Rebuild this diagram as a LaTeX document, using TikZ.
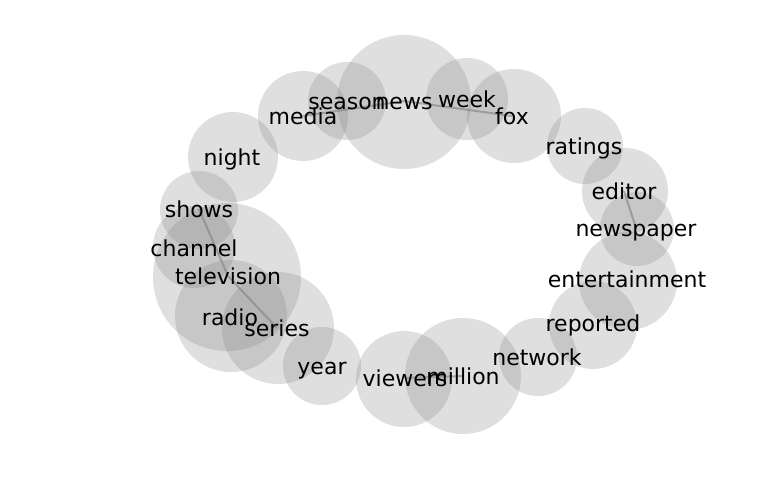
\documentclass[tikz,border=0pt]{standalone}
\usepackage{fontspec}
\setmainfont{DejaVu Sans}
\begin{document}
\begin{tikzpicture}[x=1pt,y=-1pt,
  bub/.style={fill=gray,fill opacity=0.25,draw=none},
  word/.style={inner sep=0pt,font=\fontsize{22}{24}\selectfont,text height=16.7pt,text depth=5.3pt,anchor=center,yshift=-2.5pt},
  link/.style={draw=gray,line width=2pt,opacity=0.6}]
\useasboundingbox (0,0) rectangle (768,500);
\fill[white] (0,0) rectangle (768,500);
% circles
\fill[bub] (404,102) circle (67);
\fill[bub] (347,101) circle (39);
\fill[bub] (303,116) circle (45);
\fill[bub] (467,99) circle (41);
\fill[bub] (514,116) circle (47);
\fill[bub] (585,146) circle (38);
\fill[bub] (625,191) circle (43);
\fill[bub] (637,229) circle (37);
\fill[bub] (628,281) circle (49);
\fill[bub] (593,325) circle (44);
\fill[bub] (538,357) circle (39);
\fill[bub] (463,376) circle (58);
\fill[bub] (404,379) circle (48);
\fill[bub] (322,366) circle (39);
\fill[bub] (278,328) circle (56);
\fill[bub] (231,316) circle (56);
\fill[bub] (227,277) circle (74);
\fill[bub] (194,247) circle (41);
\fill[bub] (199,210) circle (39);
\fill[bub] (233,157) circle (45);
% anchor points of the words
\coordinate (cnews) at (404,101);
\coordinate (cseason) at (347,101);
\coordinate (cmedia) at (303,116);
\coordinate (cweek) at (467,99);
\coordinate (cfox) at (512,116);
\coordinate (cratings) at (584,146);
\coordinate (ceditor) at (624,191);
\coordinate (cnewspaper) at (636,228);
\coordinate (centertainment) at (627,279);
\coordinate (creported) at (593,323);
\coordinate (cnetwork) at (537,357);
\coordinate (cmillion) at (463,376);
\coordinate (cviewers) at (405,378);
\coordinate (cyear) at (322,366);
\coordinate (cseries) at (277,328);
\coordinate (cradio) at (230,317);
\coordinate (ctelevision) at (228,276);
\coordinate (cchannel) at (194,248);
\coordinate (cshows) at (199,209);
\coordinate (cnight) at (232,157);
% links
\draw[link] (cmedia) -- (cnews);
\draw[link] (cnews) -- (cfox);
\draw[link] (ceditor) -- (cnewspaper);
\draw[link] (cshows) -- (ctelevision);
\draw[link] (ctelevision) -- (cseries);
\draw[link] (cviewers) -- (cmillion);
% words
\node[word] (news) at (cnews) {news};
\node[word] (season) at (cseason) {season};
\node[word] (media) at (cmedia) {media};
\node[word] (week) at (cweek) {week};
\node[word] (fox) at (cfox) {fox};
\node[word] (ratings) at (cratings) {ratings};
\node[word] (editor) at (ceditor) {editor};
\node[word] (newspaper) at (cnewspaper) {newspaper};
\node[word] (entertainment) at (centertainment) {entertainment};
\node[word] (reported) at (creported) {reported};
\node[word] (network) at (cnetwork) {network};
\node[word] (million) at (cmillion) {million};
\node[word] (viewers) at (cviewers) {viewers};
\node[word] (year) at (cyear) {year};
\node[word] (series) at (cseries) {series};
\node[word] (radio) at (cradio) {radio};
\node[word] (television) at (ctelevision) {television};
\node[word] (channel) at (cchannel) {channel};
\node[word] (shows) at (cshows) {shows};
\node[word] (night) at (cnight) {night};
\end{tikzpicture}
\end{document}
